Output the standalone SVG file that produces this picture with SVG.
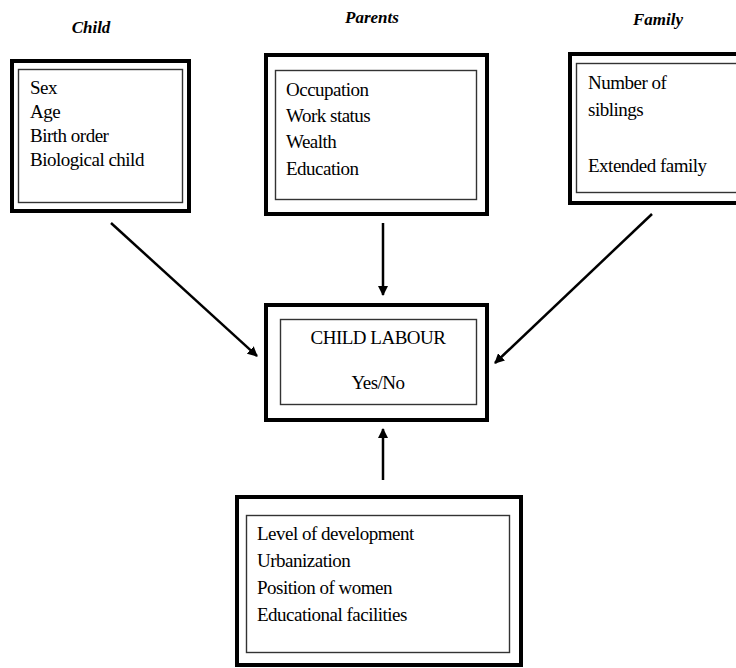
<svg xmlns="http://www.w3.org/2000/svg" width="736" height="668" viewBox="0 0 736 668" font-family="'Liberation Serif', 'Times New Roman', Tinos, 'DejaVu Serif', serif">
<style>
.outer{fill:#fff;stroke:#000;stroke-width:4}
.inner{fill:none;stroke:#333;stroke-width:1.4}
.t{font-family:'Liberation Serif',serif;font-size:19px;letter-spacing:-0.5px;fill:#000}
.title{font-family:'Liberation Serif',serif;font-size:17px;font-weight:bold;font-style:italic;fill:#000;text-anchor:middle}
.c{text-anchor:middle}
.arr{stroke:#000;stroke-width:2.5;fill:none;marker-end:url(#ah)}
</style>
<defs>
<marker id="ah" viewBox="0 0 10 10" refX="9" refY="5" markerWidth="4" markerHeight="4" orient="auto" markerUnits="strokeWidth">
<path d="M0,0 L10,5 L0,10 z" fill="#000"/>
</marker>
</defs>
<rect width="736" height="668" fill="#fff"/>
<g id="child">
<text class="title" x="91" y="33">Child</text>
<rect class="outer" x="12" y="61" width="177" height="150"/>
<rect class="inner" x="18.5" y="69.5" width="164" height="133"/>
<text class="t" x="30" y="94">Sex</text>
<text class="t" x="30" y="118">Age</text>
<text class="t" x="30" y="142">Birth order</text>
<text class="t" x="30" y="166">Biological child</text>
</g>
<g id="parents">
<text class="title" x="372" y="23">Parents</text>
<rect class="outer" x="266" y="55" width="221" height="159"/>
<rect class="inner" x="275.5" y="70.5" width="201" height="129"/>
<text class="t" x="286" y="96">Occupation</text>
<text class="t" x="286" y="122">Work status</text>
<text class="t" x="286" y="148">Wealth</text>
<text class="t" x="286" y="175">Education</text>
</g>
<g id="family">
<text class="title" x="658" y="25">Family</text>
<rect class="outer" x="570" y="54" width="200" height="149"/>
<rect class="inner" x="576.5" y="63.5" width="200" height="129"/>
<text class="t" x="588" y="89">Number of</text>
<text class="t" x="588" y="116">siblings</text>
<text class="t" x="588" y="172">Extended family</text>
</g>
<g id="childlabour">
<rect class="outer" x="266" y="305" width="221" height="115"/>
<rect class="inner" x="280.5" y="319.5" width="196" height="85"/>
<text class="t c" x="378" y="344">CHILD LABOUR</text>
<text class="t c" x="378" y="389">Yes/No</text>
</g>
<g id="context">
<rect class="outer" x="237" y="497" width="284" height="168"/>
<rect class="inner" x="246.5" y="515.5" width="263" height="137"/>
<text class="t" x="257" y="540">Level of development</text>
<text class="t" x="257" y="567">Urbanization</text>
<text class="t" x="257" y="594">Position of women</text>
<text class="t" x="257" y="621">Educational facilities</text>
</g>
<g id="connectors">
<line class="arr" x1="111" y1="223" x2="257" y2="356"/>
<line class="arr" x1="383" y1="223" x2="383" y2="295"/>
<line class="arr" x1="652" y1="214" x2="495" y2="363"/>
<line class="arr" x1="383" y1="480" x2="383" y2="429"/>
</g>
</svg>
